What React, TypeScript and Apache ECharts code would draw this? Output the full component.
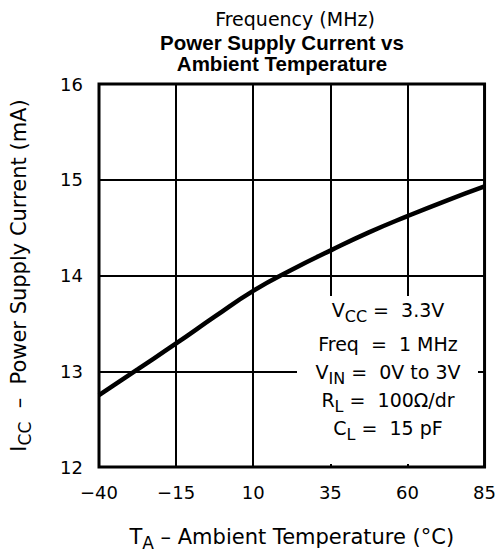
import React, { useEffect, useRef } from "react";
import * as echarts from "echarts";

const temps = [-40, -27.5, -15, -2.5, 10, 22.5, 35, 47.5, 60, 72.5, 85];
const icc = [12.75, 13.02, 13.29, 13.57, 13.84, 14.06, 14.26, 14.45, 14.62, 14.78, 14.93];
const titleLines = ["Power Supply Current vs", "Ambient Temperature"];
const topNote = "Frequency (MHz)";
const noteLines = [
  "{n|V}{s|CC}{n| =  3.3V}",
  "{n|Freq  =  1 MHz}",
  "{n|V}{s|IN}{n| =  0V to 3V}",
  "{n|R}{s|L}{n| =  100Ω/dr}",
  "{n|C}{s|L}{n| =  15 pF}",
];
const noteY = [310, 344, 372, 400, 428];

const PLOT = "DejaVu Sans";

export default function App() {
  const ref = useRef<HTMLDivElement>(null);
  useEffect(() => {
    const chart = echarts.init(ref.current!, null, { renderer: "svg" });
    const mkRich = (n: number, s: number) => ({
      n: { fontFamily: PLOT, fontSize: n, lineHeight: 28, color: "#000", verticalAlign: "middle" },
      s: { fontFamily: PLOT, fontSize: s, lineHeight: 14, color: "#000", verticalAlign: "bottom" },
    });
    const noteRich = mkRich(19, 16);
    const nameRich = mkRich(21, 17);
    chart.setOption({
      animation: false,
      backgroundColor: "#fff",
      grid: {
        left: 99,
        right: 13,
        top: 84,
        bottom: 84,
        show: true,
        borderColor: "#000",
        borderWidth: 3,
        backgroundColor: "transparent",
      },
      xAxis: {
        type: "value",
        min: -40,
        max: 85,
        interval: 25,
        axisLine: { show: false },
        axisTick: { show: false },
        splitLine: { show: true, lineStyle: { color: "#000", width: 2 } },
        axisLabel: {
          fontFamily: PLOT,
          fontSize: 18,
          color: "#000",
          margin: 16,
          formatter: (v: number) => String(v).replace("-", "−"),
        },
        name: "{n|T}{s|A}{n| – Ambient Temperature (°C)}",
        nameLocation: "middle",
        nameGap: 56,
        nameTextStyle: { rich: nameRich },
      },
      yAxis: {
        type: "value",
        min: 12,
        max: 16,
        interval: 1,
        axisLine: { show: false },
        axisTick: { show: false },
        splitLine: { show: true, lineStyle: { color: "#000", width: 2 } },
        axisLabel: { fontFamily: PLOT, fontSize: 18, color: "#000", margin: 16 },
        name: "{n|I}{s|CC}{n|  –  Power Supply Current (mA)}",
        nameLocation: "middle",
        nameRotate: 90,
        nameGap: 66,
        nameTextStyle: { rich: nameRich },
      },
      series: [
        {
          type: "line",
          data: temps.map((t, i) => [t, icc[i]]),
          smooth: true,
          showSymbol: false,
          lineStyle: { color: "#000", width: 4.5 },
          z: 5,
        },
      ],
      graphic: [
        {
          type: "text",
          x: 295,
          y: 19,
          z: 10,
          style: {
            text: topNote,
            fontFamily: PLOT,
            fontSize: 19,
            lineHeight: 18,
            fill: "#000",
            textAlign: "center",
            textVerticalAlign: "middle",
          },
        },
        {
          type: "text",
          x: 282,
          y: 52.5,
          z: 10,
          style: {
            text: titleLines.join("\n"),
            fontFamily: "Liberation Sans",
            fontWeight: "bold",
            fontSize: 20.5,
            lineHeight: 21,
            fill: "#000",
            textAlign: "center",
            textVerticalAlign: "middle",
          },
        },
        {
          type: "rect",
          z: 3,
          shape: { x: 297, y: 296, width: 181, height: 168 },
          style: { fill: "#fff" },
        },
        ...noteLines.map((t, i) => ({
          type: "text",
          x: 388,
          y: noteY[i],
          z: 10,
          style: { text: t, rich: noteRich, textAlign: "center", textVerticalAlign: "middle", fill: "#000" },
        })),
      ],
    });
    return () => chart.dispose();
  }, []);
  return <div ref={ref} style={{ width: 499, height: 556, position: "fixed", left: 0, top: 0 }} />;
}
